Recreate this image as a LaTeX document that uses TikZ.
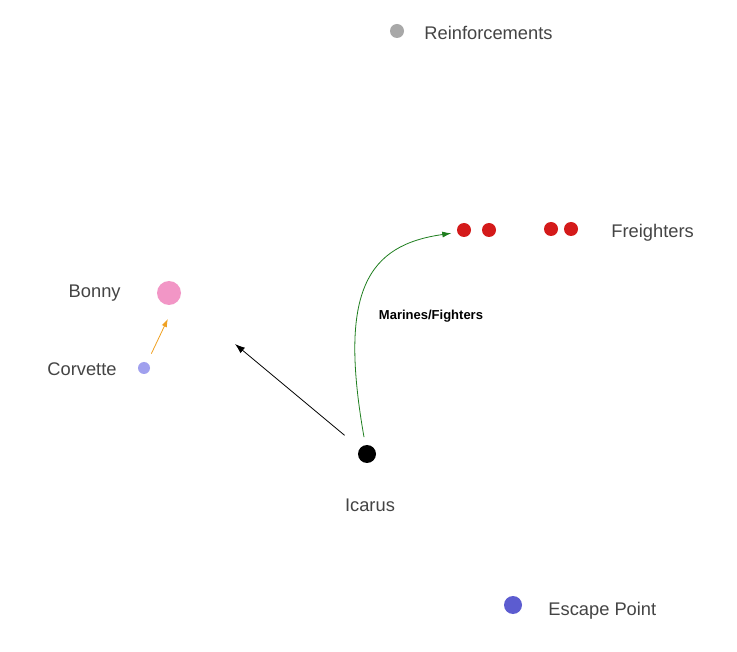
\documentclass[tikz,border=0pt]{standalone}
\usepackage{fontspec}
\setmainfont{Liberation Sans}
\usetikzlibrary{arrows.meta,positioning}

\definecolor{dotgray}{HTML}{A8A8A8}
\definecolor{dotred}{HTML}{D41A1A}
\definecolor{dotpink}{HTML}{F296C6}
\definecolor{dotlav}{HTML}{A0A0EE}
\definecolor{dotblue}{HTML}{5C5CD0}
\definecolor{arrorange}{HTML}{F0A020}
\definecolor{arrgreen}{HTML}{1E7E1E}
\definecolor{tagtext}{HTML}{444444}

\begin{document}
\begin{tikzpicture}[x=1pt,y=-1pt,
    every node/.style={inner sep=0pt}]
  \tikzstyle{dotG}=[circle,fill=dotgray,minimum size=14pt]
  \tikzstyle{dotR}=[circle,fill=dotred,minimum size=14pt]
  \tikzstyle{dotP}=[circle,fill=dotpink,minimum size=24pt]
  \tikzstyle{dotL}=[circle,fill=dotlav,minimum size=12pt]
  \tikzstyle{dotK}=[circle,fill=black,minimum size=18pt]
  \tikzstyle{dotB}=[circle,fill=dotblue,minimum size=18pt]
  \tikzstyle{tag}=[text=tagtext,font=\fontsize{18.3}{20}\selectfont]

  \useasboundingbox[fill=white] (0,0) rectangle (737,652);

  % Ships and places
  \node[dotG] (reinf)  at (397,31)  {};
  \node[dotR] (frA)    at (464,230) {};
  \node[dotR] (frB)    at (489,230) {};
  \node[dotR] (frC)    at (551,229) {};
  \node[dotR] (frD)    at (571,229) {};
  \node[dotP] (bonny)  at (169,293) {};
  \node[dotL] (corv)   at (144,368) {};
  \node[dotK] (icarus) at (367,454) {};
  \node[dotB] (escape) at (513,605) {};
  \coordinate (aim) at (235,344);

  % Labels
  \node[tag, right=20pt of reinf, yshift=-2pt]  (reinf_t)  {Reinforcements};
  \node[tag, right=33pt of frD, yshift=-4pt]    (fr_t)     {Freighters};
  \node[tag, left=36pt of bonny]                (bonny_t)  {Bonny};
  \node[tag, left=21pt of corv, yshift=-1pt]    (corv_t)   {Corvette};
  \node[tag, below=36pt of icarus, xshift=3pt]  (icarus_t) {Icarus};
  \node[tag, right=26pt of escape, yshift=-6pt] (escape_t) {Escape Point};
  \node[font=\bfseries\fontsize{13}{15}\selectfont] (mf_t) at (431,316) {Marines/Fighters};

  % Moves
  \draw[arrorange,line width=0.8pt,-{Latex[length=8pt,width=5.5pt]},
        shorten <=10pt,shorten >=17pt] (corv.60) -- (bonny.-60);
  \draw[black,line width=0.8pt,-{Latex[length=10pt,width=7pt]},
        shorten <=20pt] (icarus) -- (aim);
  \draw[arrgreen,line width=0.8pt,-{Latex[length=9pt,width=6pt]},
        shorten <=8pt,shorten >=6pt]
    (icarus) .. controls (338,290) and (368,245) .. (frA.200);
\end{tikzpicture}
\end{document}
